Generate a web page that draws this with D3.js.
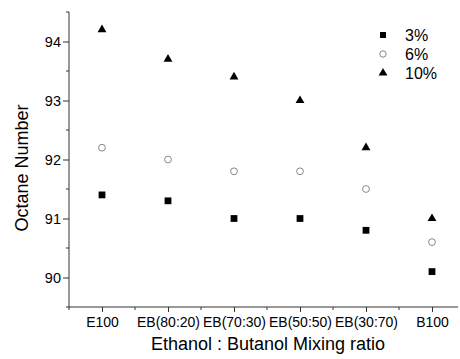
<!DOCTYPE html>
<html>
<head>
<meta charset="utf-8">
<script src="https://cdn.jsdelivr.net/npm/d3@7"></script>
<style>
  body { margin: 0; background: #fff; }
  svg text { font-family: "Liberation Sans", Arial, sans-serif; fill: #000; }
</style>
</head>
<body>
<div id="chart"></div>
<script>
// data
const categories = ['E100', 'EB(80:20)', 'EB(70:30)', 'EB(50:50)', 'EB(30:70)', 'B100'];
const seriesNames = ['3%', '6%', '10%'];
const values3 = [91.4, 91.3, 91.0, 91.0, 90.8, 90.1];
const values6 = [92.2, 92.0, 91.8, 91.8, 91.5, 90.6];
const values10 = [94.2, 93.7, 93.4, 93.0, 92.2, 91.0];
const yTicks = [90, 91, 92, 93, 94];

const width = 460, height = 359;
const plotLeft = 69, plotBottom = 307, plotTop = 12, axisEnd = 458;

const svg = d3.select('#chart').append('svg')
  .attr('width', width)
  .attr('height', height);

// categories sit on integer positions, half a step of padding on the left
const x = d3.scaleLinear().domain([-0.5, 5.5]).range([plotLeft, 465]);
const y = d3.scaleLinear().domain([89.5, 94.5]).range([plotBottom, plotTop]);

// y axis
const yAxis = svg.append('g').attr('transform', `translate(${plotLeft},0)`);
yAxis.call(d3.axisLeft(y).tickValues(yTicks).tickFormat(d3.format('d'))
    .tickSize(6).tickPadding(2).tickSizeOuter(0))
  .call(g => g.select('.domain').remove());
yAxis.selectAll('.tick text').style('font-size', '14.5px');
yAxis.selectAll('.tick line').attr('stroke', '#333');
// minor ticks
yAxis.selectAll('.minor')
  .data([89.5, 90.5, 91.5, 92.5, 93.5, 94.5])
  .enter().append('line')
  .attr('x1', -3).attr('x2', 0)
  .attr('y1', d => y(d)).attr('y2', d => y(d))
  .attr('stroke', '#333');
yAxis.append('line')
  .attr('x1', 0).attr('x2', 0)
  .attr('y1', plotTop).attr('y2', plotBottom)
  .attr('stroke', '#333');

// x axis
const xAxis = svg.append('g').attr('transform', `translate(0,${plotBottom})`);
xAxis.call(d3.axisBottom(x).tickValues(d3.range(categories.length))
    .tickFormat(i => categories[i]).tickSize(5).tickPadding(5).tickSizeOuter(0))
  .call(g => g.select('.domain').remove());
xAxis.selectAll('.tick text').style('font-size', '14px');
xAxis.selectAll('.tick line').attr('stroke', '#333');
xAxis.selectAll('.minor')
  .data(d3.range(-0.5, 5, 1))
  .enter().append('line')
  .attr('x1', d => x(d)).attr('x2', d => x(d))
  .attr('y1', 0).attr('y2', 3)
  .attr('stroke', '#333');
xAxis.append('line')
  .attr('x1', plotLeft).attr('x2', axisEnd)
  .attr('y1', 0).attr('y2', 0)
  .attr('stroke', '#333');

// axis titles
svg.append('text')
  .attr('x', 268).attr('y', 350)
  .attr('text-anchor', 'middle')
  .style('font-size', '18px')
  .text('Ethanol : Butanol Mixing ratio');

svg.append('text')
  .attr('transform', 'translate(28,168) rotate(-90)')
  .attr('text-anchor', 'middle')
  .style('font-size', '18px')
  .text('Octane Number');

// markers
const square = d3.symbol().type(d3.symbolSquare).size(46);
const triangle = d3.symbol().type(d3.symbolTriangle).size(34);

function drawSquares(g, vals) {
  g.selectAll('path').data(vals).enter().append('path')
    .attr('d', square)
    .attr('transform', (d, i) => `translate(${x(i)},${y(d)})`)
    .attr('fill', '#000');
}
function drawCircles(g, vals) {
  g.selectAll('circle').data(vals).enter().append('circle')
    .attr('cx', (d, i) => x(i))
    .attr('cy', d => y(d))
    .attr('r', 3.4)
    .attr('fill', 'none')
    .attr('stroke', '#888')
    .attr('stroke-width', 1);
}
function drawTriangles(g, vals) {
  g.selectAll('path').data(vals).enter().append('path')
    .attr('d', triangle)
    .attr('transform', (d, i) => `translate(${x(i)},${y(d)})`)
    .attr('fill', '#000');
}

drawSquares(svg.append('g'), values3);
drawCircles(svg.append('g'), values6);
drawTriangles(svg.append('g'), values10);

// legend
const legend = svg.append('g').attr('transform', 'translate(383,35)');
seriesNames.forEach((name, i) => {
  const row = legend.append('g').attr('transform', `translate(0,${i * 19})`);
  if (i === 0) row.append('path').attr('d', d3.symbol().type(d3.symbolSquare).size(36)).attr('fill', '#000');
  if (i === 1) row.append('circle').attr('r', 3.2).attr('fill', 'none').attr('stroke', '#888');
  if (i === 2) row.append('path').attr('d', triangle).attr('fill', '#000');
  row.append('text')
    .attr('x', 22).attr('y', 6)
    .style('font-size', '16px')
    .text(name);
});
</script>
</body>
</html>
